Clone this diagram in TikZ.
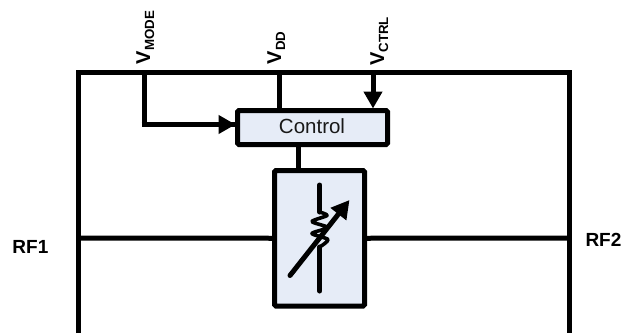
\documentclass[tikz,border=0pt]{standalone}
\usepackage{fontspec}
\setmainfont{Liberation Sans}
\usetikzlibrary{arrows.meta}
\definecolor{boxfill}{HTML}{E6ECF7}
\newcommand{\supply}[2]{{\fontsize{20}{20}\selectfont\bfseries #1}\kern-0.3pt\raisebox{-4pt}{\fontsize{13.3}{14}\selectfont\bfseries #2}}
\tikzset{
  wire/.style={line width=5pt,line cap=butt,line join=miter},
  arrowwire/.style={wire,-{Triangle[length=17pt,width=18pt]}},
  block/.style={draw,line width=5pt,fill=boxfill,rounded corners=1.5pt,inner sep=0pt,outer sep=0pt,anchor=north west},
  supplylabel/.style={rotate=90,anchor=base west,inner sep=0pt,outer sep=0pt},
  rflabel/.style={anchor=base west,inner sep=0pt,outer sep=0pt,font=\fontsize{19}{19}\selectfont\bfseries},
  symbolline/.style={line width=5pt,line cap=round,line join=round},
  zigzagline/.style={line width=3.6pt,line cap=round,line join=round},
}
\begin{document}
\begin{tikzpicture}[x=1pt,y=-1pt]
\useasboundingbox (0,0) rectangle (626,333);
% rail coordinates
\coordinate (bl) at (78,333);
\coordinate (tl) at (78,72);
\coordinate (tr) at (569,72);
\coordinate (br) at (569,333);
\coordinate (tapmode) at (144,72);
\coordinate (tapdd) at (279,72);
\coordinate (tapctrl) at (373,72);
\coordinate (railL) at (78,238);
\coordinate (railR) at (569,238);
\coordinate (bendmode) at (144,124.5);
\coordinate (bendcorner) at (141.5,124.5);
% frame
\draw[wire] (bl) -- (tl) -- (tr) -- (br);
% blocks
\node[block,minimum width=150pt,minimum height=34pt] (control) at (237.5,110.5) {};
\node[anchor=base,inner sep=0pt,font=\fontsize{20.5}{20}\selectfont,text=black!90] (controltext) at (312,133) {Control};
\node[block,minimum width=90pt,minimum height=135.5pt] (switch) at (274.5,170.5) {};
\coordinate (ctrlout) at (298,144);
\coordinate (swin) at (298,171);
\coordinate (ddin) at (279,111);
\coordinate (ctrlin) at (373,108.5);
\coordinate (modein) at (235.5,124.5);
% connectors
\draw[wire] (tapmode) -- (bendmode);
\draw[wire] (bendcorner) -- (modein);
\draw[arrowwire] (bendmode) -- (modein);
\draw[wire] (tapdd) -- (ddin);
\draw[arrowwire] (tapctrl) -- (ctrlin);
\draw[wire] (ctrlout) -- (swin);
\draw[wire] (railL) -- (switch.west);
\draw[wire] (switch.east) -- (railR);
% tunable element
\coordinate (rtop) at (319.7,185);
\coordinate (rupper) at (319.7,212);
\coordinate (rlower) at (319.7,247);
\coordinate (rbottom) at (319.7,291);
\coordinate (arrowstart) at (290,275.5);
\coordinate (arrowtip) at (349.5,200);
\draw[symbolline] (rtop) -- (rupper);
\draw[symbolline] (rlower) -- (rbottom);
\draw[zigzagline] plot[smooth,tension=0.45] coordinates {(rupper) (327,215.5) (312,221.5) (327.5,227.5) (312,233.5) (328,239.5) (rlower)};
\draw[symbolline,-{Triangle[length=18pt,width=19pt]}] (arrowstart) -- (arrowtip);
% labels
\node[supplylabel] (vmode) at (150,64) {\supply{V}{MODE}};
\node[supplylabel] (vdd) at (281,64) {\supply{V}{DD}};
\node[supplylabel] (vctrl) at (384,65.5) {\supply{V}{CTRL}};
\node[rflabel] (rf1) at (12.5,253) {RF1};
\node[rflabel] (rf2) at (585.5,246) {RF2};
\end{tikzpicture}
\end{document}
